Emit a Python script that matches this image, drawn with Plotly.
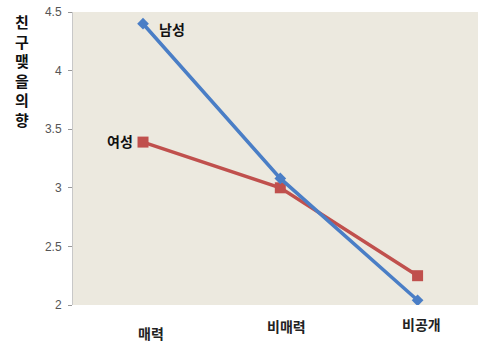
import plotly.graph_objects as go

# Data
categories = ["매력", "비매력", "비공개"]
male = [4.40, 3.08, 2.04]
female = [3.39, 3.00, 2.25]
y_ticks = [2, 2.5, 3, 3.5, 4, 4.5]
y_tick_text = ["2", "2.5", "3", "3.5", "4", "4.5"]
y_title = "친구맺을의향"

x_pos = list(range(len(categories)))
kfont = "Noto Sans CJK KR"

fig = go.Figure()

fig.add_trace(go.Scatter(
    x=x_pos, y=female, mode="lines+markers", name="여성",
    line=dict(color="#C0504D", width=3.5),
    marker=dict(symbol="square", size=11, color="#C0504D"),
))
fig.add_trace(go.Scatter(
    x=x_pos, y=male, mode="lines+markers", name="남성",
    line=dict(color="#4A7EC6", width=3.5),
    marker=dict(symbol="diamond", size=9, color="#4A7EC6"),
))

annotations = []
# series labels
annotations.append(dict(x=x_pos[0], y=male[0], xref="x", yref="y", text="<b>남성</b>",
                        showarrow=False, xanchor="left", xshift=14, yshift=-5,
                        font=dict(family=kfont, size=14, color="#111")))
annotations.append(dict(x=x_pos[0], y=female[0], xref="x", yref="y", text="<b>여성</b>",
                        showarrow=False, xanchor="right", xshift=-8, yshift=1,
                        font=dict(family=kfont, size=14, color="#111")))

# category labels
label_shifts = [-28, -21, -19]
label_dx = [8, 6, 4]
for xi, name, dy, dx in zip(x_pos, categories, label_shifts, label_dx):
    annotations.append(dict(x=xi, y=0, xref="x", yref="paper", text="<b>" + name + "</b>",
                            showarrow=False, xanchor="center", yanchor="middle",
                            xshift=dx, yshift=dy,
                            font=dict(family=kfont, size=14, color="#222")))

# vertical stacked axis title
annotations.append(dict(x=0, y=1, xref="paper", yref="paper",
                        text="<b>" + "<br>".join(y_title) + "</b>",
                        showarrow=False, xanchor="center", yanchor="top",
                        xshift=-51, yshift=3, align="center",
                        font=dict(family=kfont, size=15, color="#111")))

fig.update_layout(
    width=478, height=342,
    margin=dict(l=73, r=0, t=12, b=37),
    paper_bgcolor="white",
    plot_bgcolor="#ECE9DF",
    showlegend=False,
    annotations=annotations,
    xaxis=dict(range=[-0.51, 2.44], showticklabels=False, showgrid=False,
               zeroline=False, ticks="", showline=False),
    yaxis=dict(range=[2, 4.5], tickvals=y_ticks, ticktext=y_tick_text,
               showgrid=False, zeroline=False, showline=True, linecolor="#C8C8C8",
               linewidth=1, ticks="outside", ticklen=4, tickcolor="#999",
               tickfont=dict(family="Liberation Sans", size=12, color="#555"),
               ticklabelstandoff=4),
)

fig.write_html("out.html")
